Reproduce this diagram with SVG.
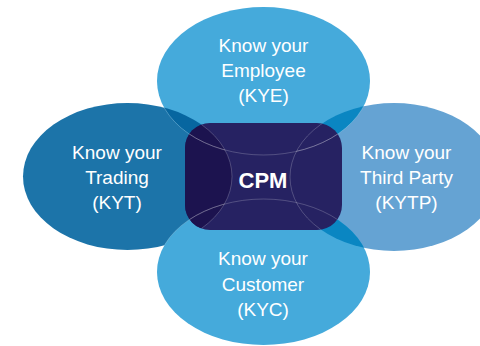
<svg xmlns="http://www.w3.org/2000/svg" width="480" height="346" viewBox="0 0 480 346">
  <style>
    .lbl { font-family: "Liberation Sans", Arial, sans-serif; font-size: 19px; fill: #ffffff; text-anchor: middle; }
    .cpm { font-family: "Liberation Sans", Arial, sans-serif; font-size: 22px; font-weight: bold; fill: #ffffff; text-anchor: middle; }
    .edge { fill: none; stroke: #ffffff; stroke-opacity: 0.3; stroke-width: 0.7; }
  </style>
  <defs>
    <ellipse id="eTop" cx="263.5" cy="81" rx="106.5" ry="74"/>
    <ellipse id="eBot" cx="263.5" cy="272" rx="106.5" ry="73"/>
    <ellipse id="eLeft" cx="127.5" cy="176.5" rx="104.5" ry="73.5"/>
    <ellipse id="eRight" cx="394" cy="177" rx="104" ry="74"/>
    <rect id="core" x="185" y="123" width="157" height="107" rx="25" ry="25"/>
    <clipPath id="cLeft"><use href="#eLeft"/></clipPath>
    <clipPath id="cRight"><use href="#eRight"/></clipPath>
    <clipPath id="cCore"><use href="#core"/></clipPath>
  </defs>
  <rect width="480" height="346" fill="#ffffff"/>

  <g id="kyt"><use href="#eLeft" fill="#1c74a9"/></g>
  <g id="kytp"><use href="#eRight" fill="#65a3d3"/></g>
  <g id="kye"><use href="#eTop" fill="#45aadb"/></g>
  <g id="kyc"><use href="#eBot" fill="#45aadb"/></g>

  <g id="overlaps">
    <use href="#eTop" fill="#0766a0" clip-path="url(#cLeft)"/>
    <use href="#eTop" fill="#0a86c2" clip-path="url(#cRight)"/>
    <use href="#eBot" fill="#0a86c2" clip-path="url(#cRight)"/>
  </g>

  <g id="cpm">
    <use href="#core" fill="#262262"/>
    <use href="#eLeft" fill="#1c134f" clip-path="url(#cCore)"/>
  </g>

  <g id="connectors">
    <use href="#eTop" class="edge" clip-path="url(#cLeft)"/>
    <use href="#eTop" class="edge" clip-path="url(#cRight)"/>
    <use href="#eLeft" class="edge" clip-path="url(#cCore)"/>
    <use href="#eRight" class="edge" clip-path="url(#cCore)"/>
    <use href="#eTop" class="edge" clip-path="url(#cCore)"/>
    <use href="#eBot" class="edge" clip-path="url(#cCore)"/>
    <use href="#eBot" class="edge" clip-path="url(#cLeft)"/>
  </g>

  <g id="labels">
    <text class="lbl" x="263.5" y="52">Know your</text>
    <text class="lbl" x="263.5" y="77">Employee</text>
    <text class="lbl" x="263.5" y="102">(KYE)</text>

    <text class="lbl" x="117" y="159">Know your</text>
    <text class="lbl" x="117" y="184">Trading</text>
    <text class="lbl" x="117" y="209">(KYT)</text>

    <text class="lbl" x="406.5" y="159">Know your</text>
    <text class="lbl" x="406.5" y="184">Third Party</text>
    <text class="lbl" x="406.5" y="209">(KYTP)</text>

    <text class="lbl" x="263" y="265">Know your</text>
    <text class="lbl" x="263" y="291">Customer</text>
    <text class="lbl" x="263" y="316">(KYC)</text>

    <text class="cpm" x="263" y="188">CPM</text>
  </g>
</svg>
